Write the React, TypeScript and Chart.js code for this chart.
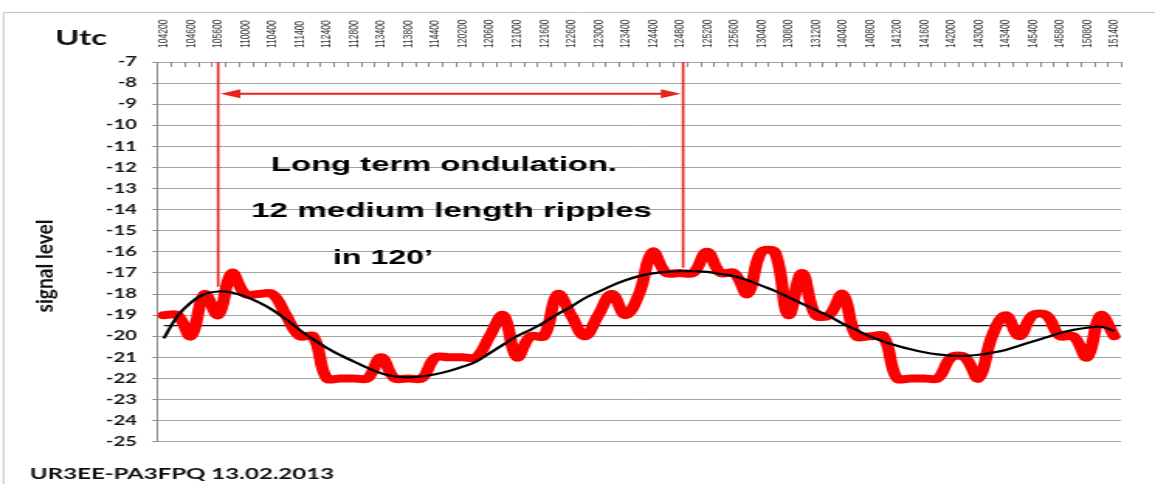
import React, { useEffect, useRef } from "react";
import { Chart, registerables } from "chart.js";

Chart.register(...registerables);

// ---- data ----
const TIME_LABELS = [
  "104200", "104600", "105600", "110000", "110400", "111400", "112400", "112800",
  "113400", "113800", "114400", "120200", "120600", "121000", "121600", "122600",
  "123000", "123400", "124400", "124800", "125200", "125600", "130400", "130800",
  "131200", "140400", "140800", "141200", "141600", "142000", "143000", "143400",
  "145400", "145800", "150800", "151400",
];

const SIGNAL_LEVEL = [
  -19, -19, -20, -18, -19, -17, -18, -18, -18, -19,
  -20, -20, -22, -22, -22, -22, -21, -22, -22, -22,
  -21, -21, -21, -21, -20, -19, -21, -20, -20, -18,
  -19, -20, -19, -18, -19, -18, -16, -17, -17, -17,
  -16, -17, -17, -18, -16, -16, -19, -17, -19, -19,
  -18, -20, -20, -20, -22, -22, -22, -22, -21, -21,
  -22, -20, -19, -20, -19, -19, -20, -20, -21, -19,
  -20,
];

const TREND_LEVEL = [
  -20.1, -19.05, -18.4, -18.0, -17.88, -17.93, -18.12, -18.4, -18.75, -19.2,
  -19.7, -20.15, -20.55, -20.9, -21.2, -21.5, -21.75, -21.9, -21.95, -21.9,
  -21.8, -21.65, -21.45, -21.2, -20.8, -20.4, -20.0, -19.7, -19.35, -18.95,
  -18.6, -18.2, -17.9, -17.6, -17.35, -17.15, -17.02, -16.95, -16.92, -16.92,
  -16.95, -17.05, -17.15, -17.35, -17.6, -17.85, -18.15, -18.45, -18.75, -19.05,
  -19.4, -19.7, -20.0, -20.25, -20.45, -20.62, -20.76, -20.86, -20.92, -20.93,
  -20.88, -20.78, -20.65, -20.45, -20.25, -20.05, -19.85, -19.7, -19.6, -19.55,
  -19.75,
];

const MEAN_LEVEL = -19.5;
const Y_MIN = -25;
const Y_MAX = -7;
const Y_STEP = 1;

// annotation anchors (category index / value)
const RIPPLE_START = 4;
const RIPPLE_END = 38.25;
const ARROW_LEVEL = -8.5;
const START_MARK_BOTTOM = -17.65;
const END_MARK_BOTTOM = -16.75;

const NOTE_LINES = ["Long term ondulation.", "12 medium length ripples", "in 120’"];
const X_TITLE = "Utc";
const Y_TITLE = "signal level";
const CREDIT = "UR3EE-PA3FPQ 13.02.2013";

// one category per sample, every other one carries a time label
const CATEGORIES = SIGNAL_LEVEL.map((_, i) => (i % 2 === 0 ? TIME_LABELS[i / 2] : ""));

// ---- rendering geometry (reference is horizontally stretched) ----
const PAGE_W = 1155;
const PAGE_H = 484;
const CANVAS_W = 745;
const STRETCH = PAGE_W / CANVAS_W;
const px = (v: number) => v / STRETCH;

function drawFitted(
  ctx: CanvasRenderingContext2D,
  text: string,
  x: number,
  y: number,
  targetW: number,
  align: CanvasTextAlign
) {
  const w = ctx.measureText(text).width || 1;
  ctx.save();
  ctx.translate(x, y);
  ctx.scale(targetW / w, 1);
  ctx.textAlign = align;
  ctx.fillText(text, 0, 0);
  ctx.restore();
}

const decorPlugin = {
  id: "decor",
  beforeDraw(chart: any) {
    const { ctx, width, height } = chart;
    ctx.save();
    ctx.fillStyle = "#ffffff";
    ctx.fillRect(0, 0, width, height);
    ctx.strokeStyle = "#c4c4c4";
    ctx.lineWidth = 1;
    ctx.beginPath();
    ctx.moveTo(width + 2, 12.5);
    ctx.lineTo(px(3.5), 12.5);
    ctx.lineTo(px(3.5), height + 2);
    ctx.stroke();
    ctx.restore();
  },
  beforeDatasetsDraw(chart: any) {
    const { ctx, chartArea } = chart;
    const xs = chart.scales.x;
    const ys = chart.scales.y;
    ctx.save();
    // category tick marks pointing into the plot
    const step = xs.getPixelForValue(1) - xs.getPixelForValue(0);
    ctx.strokeStyle = "#8a8a8a";
    ctx.lineWidth = 1;
    ctx.beginPath();
    for (let i = 0; i < CATEGORIES.length; i++) {
      const bx = Math.round(xs.getPixelForValue(i) + step / 2) + 0.5;
      ctx.moveTo(bx, chartArea.top);
      ctx.lineTo(bx, chartArea.top + 5);
    }
    ctx.stroke();
    // mean level line
    const my = ys.getPixelForValue(MEAN_LEVEL);
    ctx.strokeStyle = "#111111";
    ctx.lineWidth = 1.2;
    ctx.beginPath();
    ctx.moveTo(xs.getPixelForValue(0), my);
    ctx.lineTo(chartArea.right, my);
    ctx.stroke();
    ctx.restore();
  },
  afterDatasetsDraw(chart: any) {
    const { ctx, chartArea } = chart;
    const xs = chart.scales.x;
    const ys = chart.scales.y;
    const xl = xs.getPixelForValue(RIPPLE_START);
    const xr = xs.getPixelForValue(RIPPLE_END);
    const red = "#e8231f";
    ctx.save();
    ctx.strokeStyle = red;
    ctx.fillStyle = red;
    ctx.lineWidth = 1.6;
    ctx.beginPath();
    ctx.moveTo(xl, chartArea.top);
    ctx.lineTo(xl, ys.getPixelForValue(START_MARK_BOTTOM));
    ctx.moveTo(xr, chartArea.top);
    ctx.lineTo(xr, ys.getPixelForValue(END_MARK_BOTTOM));
    ctx.stroke();
    // double arrow
    const ay = ys.getPixelForValue(ARROW_LEVEL);
    const head = px(20);
    const hh = 4.5;
    const a0 = xl + 1.5;
    const a1 = xr - 1.5;
    ctx.lineWidth = 2;
    ctx.beginPath();
    ctx.moveTo(a0 + head * 0.8, ay);
    ctx.lineTo(a1 - head * 0.8, ay);
    ctx.stroke();
    ctx.beginPath();
    ctx.moveTo(a0, ay);
    ctx.lineTo(a0 + head, ay - hh);
    ctx.lineTo(a0 + head, ay + hh);
    ctx.closePath();
    ctx.fill();
    ctx.beginPath();
    ctx.moveTo(a1, ay);
    ctx.lineTo(a1 - head, ay - hh);
    ctx.lineTo(a1 - head, ay + hh);
    ctx.closePath();
    ctx.fill();
    // notes
    ctx.fillStyle = "#000000";
    ctx.font = 'bold 21px "Liberation Sans", Arial, sans-serif';
    ctx.textBaseline = "middle";
    drawFitted(ctx, NOTE_LINES[0], px(444), 165, px(346), "center");
    drawFitted(ctx, NOTE_LINES[1], px(451.5), 211, px(401), "center");
    drawFitted(ctx, NOTE_LINES[2], px(383), 258, px(100), "center");
    ctx.restore();
  },
  afterDraw(chart: any) {
    const { ctx } = chart;
    ctx.save();
    ctx.fillStyle = "#111111";
    ctx.textBaseline = "middle";
    ctx.font = "bold 21px Lato, sans-serif";
    drawFitted(ctx, X_TITLE, px(81), 38, px(52), "center");
    ctx.font = "bold 16px Lato, sans-serif";
    drawFitted(ctx, CREDIT, px(30), 474, px(304), "left");
    // rotated y title
    ctx.save();
    ctx.translate(px(45), 266);
    ctx.rotate(-Math.PI / 2);
    ctx.font = "bold 16px Lato, sans-serif";
    drawFitted(ctx, Y_TITLE, 0, 0, 93, "center");
    ctx.restore();
    ctx.restore();
  },
};

export default function App() {
  const canvasRef = useRef<HTMLCanvasElement | null>(null);

  useEffect(() => {
    const canvas = canvasRef.current;
    if (!canvas) return;
    const chart = new Chart(canvas, {
      type: "line",
      data: {
        labels: CATEGORIES,
        datasets: [
          {
            label: "trend",
            data: TREND_LEVEL,
            borderColor: "#000000",
            borderWidth: 2.2,
            tension: 0.4,
            pointRadius: 0,
            fill: false,
          },
          {
            label: "signal",
            data: SIGNAL_LEVEL,
            borderColor: "#ff0000",
            borderWidth: 8,
            tension: 0.4,
            pointRadius: 0,
            borderCapStyle: "round",
            borderJoinStyle: "round",
            fill: false,
          },
        ],
      },
      options: {
        responsive: false,
        animation: false,
        devicePixelRatio: 1,
        events: [],
        layout: { padding: { left: 0, top: 0, right: CANVAS_W - px(1121), bottom: PAGE_H - 441.7 } },
        plugins: {
          legend: { display: false },
          tooltip: { enabled: false },
          title: { display: false },
        },
        scales: {
          x: {
            type: "category",
            position: "top",
            offset: true,
            grid: { display: false, drawTicks: false },
            border: { display: false },
            ticks: {
              autoSkip: false,
              minRotation: 90,
              maxRotation: 90,
              padding: 14,
              labelOffset: 10.5,
              color: "#333333",
              font: { family: '"Liberation Sans", Arial, sans-serif', size: 8.5 },
            },
            afterFit: (s: any) => {
              s.height = 62;
            },
          },
          y: {
            min: Y_MIN,
            max: Y_MAX,
            ticks: {
              stepSize: Y_STEP,
              padding: 10,
              color: "#151515",
              font: { family: "Lato, sans-serif", size: 13, weight: "bold" },
            },
            grid: { color: "#a3a3a3", lineWidth: 1, tickLength: 3, tickColor: "#8a8a8a" },
            border: { display: true, color: "#8a8a8a", width: 1 },
            afterFit: (s: any) => {
              s.width = px(157);
            },
          },
        },
      },
      plugins: [decorPlugin],
    } as any);
    return () => chart.destroy();
  }, []);

  return (
    <div style={{ position: "absolute", left: 0, top: 0, width: PAGE_W, height: PAGE_H, background: "#fff" }}>
      <canvas
        ref={canvasRef}
        width={CANVAS_W}
        height={PAGE_H}
        style={{ display: "block", width: PAGE_W + "px", height: PAGE_H + "px" }}
      />
    </div>
  );
}
